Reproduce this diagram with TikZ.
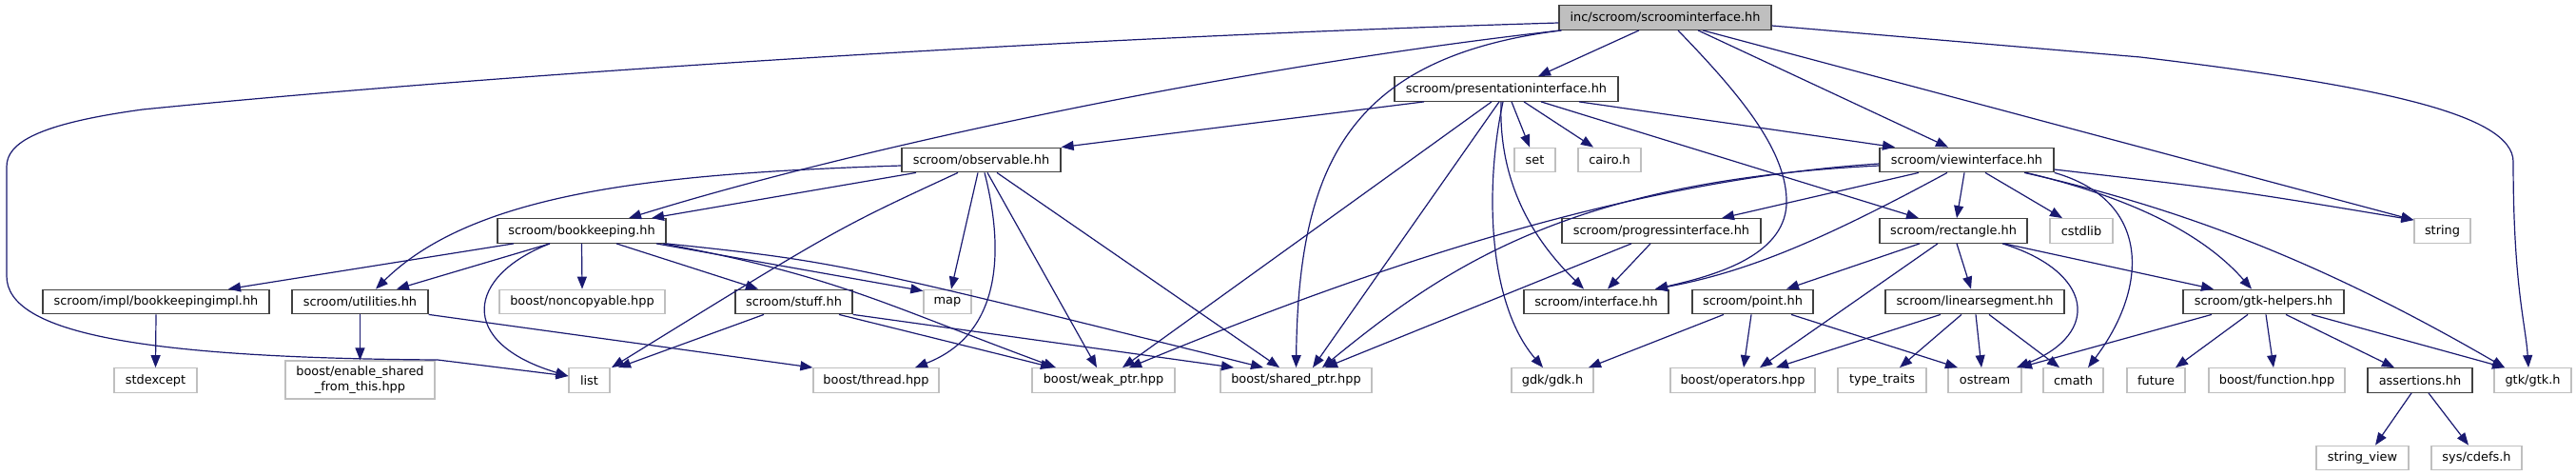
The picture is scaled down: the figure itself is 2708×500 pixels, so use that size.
\documentclass[tikz,border=0pt]{standalone}
\usepackage{fontspec}
\setmainfont{DejaVu Sans}
\usetikzlibrary{arrows.meta}
\definecolor{edgeblue}{HTML}{191970}
\definecolor{docborder}{HTML}{404040}
\definecolor{extborder}{HTML}{BFBFBF}
\definecolor{rootfill}{HTML}{BFBFBF}
\begin{document}
\begin{tikzpicture}[x=1pt,y=-1pt,
  box/.style={rectangle, inner sep=0pt, minimum height=25.5pt, font=\fontsize{12.9}{15}\selectfont, text=black, line width=1.3pt},
  doc/.style={box, draw=docborder},
  ext/.style={box, draw=extborder},
  rootbox/.style={box, draw=docborder, fill=rootfill},
  dep/.style={draw=edgeblue, line width=1.2pt, -{Triangle[length=13pt,width=10pt]}}]
\useasboundingbox (0,0) rectangle (2708,500);
% row 0
\node[rootbox, minimum width=223pt] (root) at (1750.5,18.5) {inc/scroom/scroominterface.hh};
% row 1
\node[doc, minimum width=235pt] (pres) at (1583.5,93.5) {scroom/presentationinterface.hh};
% row 2
\node[doc, minimum width=167pt] (obs) at (1031.5,168) {scroom/observable.hh};
\node[ext, minimum width=43pt] (set) at (1613.5,168) {set};
\node[ext, minimum width=66pt] (cairo) at (1692,168) {cairo.h};
\node[doc, minimum width=183pt] (view) at (2067.5,168) {scroom/viewinterface.hh};
% row 3
\node[doc, minimum width=177pt] (bk) at (611.5,242.5) {scroom/bookkeeping.hh};
\node[doc, minimum width=209pt] (prog) at (1746.5,242.5) {scroom/progressinterface.hh};
\node[doc, minimum width=155pt] (rect) at (2053.5,242.5) {scroom/rectangle.hh};
\node[ext, minimum width=66pt] (cstdlib) at (2188,242.5) {cstdlib};
\node[ext, minimum width=59pt] (string) at (2567.5,242.5) {string};
% row 4
\node[doc, minimum width=238pt] (bkimpl) at (164,317) {scroom/impl/bookkeepingimpl.hh};
\node[doc, minimum width=143pt] (util) at (378.5,317) {scroom/utilities.hh};
\node[ext, minimum width=174pt] (noncopy) at (612,317) {boost/noncopyable.hpp};
\node[doc, minimum width=123pt] (stuff) at (834.5,317) {scroom/stuff.hh};
\node[ext, minimum width=50pt] (map) at (996,317) {map};
\node[doc, minimum width=152pt] (iface) at (1678,317) {scroom/interface.hh};
\node[doc, minimum width=127pt] (point) at (1842.5,317) {scroom/point.hh};
\node[doc, minimum width=188pt] (linseg) at (2076,317) {scroom/linearsegment.hh};
\node[doc, minimum width=169pt] (gtkh) at (2379.5,317) {scroom/gtk-helpers.hh};
% row 5
\node[ext, minimum width=87pt] (stdexcept) at (163.5,399.5) {stdexcept};
\node[ext, minimum width=157pt, minimum height=40pt, align=center, font=\fontsize{12.9}{15.5}\selectfont] (enable) at (378.5,399) {boost/enable\_shared\\\_from\_this.hpp};
\node[ext, minimum width=43pt] (list) at (619.5,399.5) {list};
\node[ext, minimum width=132pt] (thread) at (921,399.5) {boost/thread.hpp};
\node[ext, minimum width=150pt] (weak) at (1160,399.5) {boost/weak\_ptr.hpp};
\node[ext, minimum width=159pt] (shared) at (1362.5,399.5) {boost/shared\_ptr.hpp};
\node[ext, minimum width=86pt] (gdk) at (1632,399.5) {gdk/gdk.h};
\node[ext, minimum width=152pt] (operators) at (1832,399.5) {boost/operators.hpp};
\node[ext, minimum width=93pt] (tt) at (1978.5,399.5) {type\_traits};
\node[ext, minimum width=77pt] (ostream) at (2086.5,399.5) {ostream};
\node[ext, minimum width=63pt] (cmath) at (2179.5,399.5) {cmath};
\node[ext, minimum width=61pt] (future) at (2266.5,399.5) {future};
\node[ext, minimum width=143pt] (function) at (2393.5,399.5) {boost/function.hpp};
\node[doc, minimum width=110pt] (assert) at (2544,399.5) {assertions.hh};
\node[ext, minimum width=81pt] (gtk) at (2662.5,399.5) {gtk/gtk.h};
% row 6
\node[ext, minimum width=97pt] (strview) at (2483.5,481) {string\_view};
\node[ext, minimum width=95pt] (cdefs) at (2603.5,481) {sys/cdefs.h};

% root edges
\draw[dep] ([yshift=-5.5pt]root.west) .. controls (1100,40) and (500,80) .. (150,115) .. controls (40,130) and (7,150) .. (7,175) -- (7,290) .. controls (7,350) and (150,376) .. (460,378) -- ([yshift=4.5pt]list.west);
\draw[dep] ([xshift=3pt]root.south west) .. controls (1300,70) and (900,155) .. ([xshift=49.5pt]bk.north);
\draw[dep] ([xshift=3pt]root.south west) .. controls (1420,60) and (1365,170) .. (shared.north);
\draw[dep] ([xshift=-27.5pt]root.south) -- ([xshift=33.5pt]pres.north);
\draw[dep] ([xshift=13.5pt]root.south) .. controls (1830,100) and (1880,160) .. (1878,215) .. controls (1875,270) and (1800,290) .. ([xshift=62pt]iface.north);
\draw[dep] ([xshift=34.5pt]root.south) -- ([xshift=-19.5pt]view.north);
\draw[dep] ([xshift=39.5pt]root.south) -- ([yshift=-2pt]string.north west);
\draw[dep] ([yshift=-8.5pt]root.east) -- (2250,60) .. controls (2500,90) and (2642,120) .. (2642,170) .. controls (2642,300) and (2655,340) .. ([xshift=-4.5pt]gtk.north);
% presentationinterface edges
\draw[dep] ([xshift=-86.5pt]pres.south) -- (obs.north east);
\draw[dep] ([xshift=-15.5pt]pres.south) -- ([xshift=20pt]weak.north);
\draw[dep] ([xshift=-7.5pt]pres.south) -- ([xshift=17.5pt]shared.north);
\draw[dep] ([xshift=-3.5pt]pres.south) .. controls (1560,200) and (1565,320) .. ([xshift=-10pt]gdk.north);
\draw[dep] ([xshift=-5.5pt]pres.south) .. controls (1575,190) and (1610,250) .. ([xshift=-13pt]iface.north);
\draw[dep] ([xshift=5.5pt]pres.south) -- ([xshift=-5.5pt]set.north);
\draw[dep] ([xshift=18.5pt]pres.south) -- ([xshift=-17pt]cairo.north);
\draw[dep] ([xshift=36.5pt]pres.south) -- ([xshift=-36.5pt]rect.north);
\draw[dep] ([xshift=76.5pt]pres.south) -- ([xshift=-75.5pt]view.north);
% observable edges
\draw[dep] ([xshift=-68.5pt]obs.south) -- ([xshift=73.5pt]bk.north);
\draw[dep] ([yshift=-6pt]obs.west) .. controls (700,182) and (500,200) .. ([xshift=16.5pt]util.north);
\draw[dep] ([xshift=-24.5pt]obs.south) .. controls (880,240) .. ([xshift=23.5pt]list.north);
\draw[dep] ([xshift=-3.5pt]obs.south) -- ([xshift=4pt]map.north);
\draw[dep] ([xshift=3.5pt]obs.south) .. controls (1055,260) and (1055,350) .. ([xshift=41pt]thread.north);
\draw[dep] ([xshift=6.5pt]obs.south) -- ([xshift=-7pt]weak.north);
\draw[dep] ([xshift=16.5pt]obs.south) -- ([xshift=-17.5pt]shared.north);
% bookkeeping edges
\draw[dep] ([xshift=-71.5pt]bk.south) -- ([xshift=76pt]bkimpl.north);
\draw[dep] ([xshift=-33.5pt]bk.south) -- ([xshift=38.5pt]util.north);
\draw[dep] ([xshift=-33.5pt]bk.south) .. controls (490,290) and (480,360) .. ([yshift=4.5pt]list.west);
\draw[dep] (bk.south) -- (noncopy.north);
\draw[dep] ([xshift=36.5pt]bk.south) -- ([xshift=-37.5pt]stuff.north);
\draw[dep] ([xshift=78.5pt]bk.south) -- ([yshift=-2pt]map.north west);
\draw[dep] ([xshift=85.5pt]bk.south) .. controls (880,290) and (930,320) .. ([xshift=-50pt]weak.north);
\draw[dep] (bk.south east) .. controls (880,275) .. ([xshift=-34.5pt]shared.north);
% utilities, impl, stuff
\draw[dep] (util.south) -- (enable.north);
\draw[dep] (util.south east) -- (thread.north west);
\draw[dep] (bkimpl.south) -- (stdexcept.north);
\draw[dep] ([xshift=-31.5pt]stuff.south) -- ([xshift=30.5pt]list.north);
\draw[dep] ([xshift=47.5pt]stuff.south) -- ([xshift=-53pt]weak.north);
\draw[dep] (stuff.south east) -- ([xshift=-65.5pt]shared.north);
% viewinterface edges
\draw[dep] ([xshift=-50.5pt]view.south) -- ([xshift=63.5pt]prog.north);
\draw[dep] ([xshift=-20.5pt]view.south) .. controls (1920,250) and (1840,285) .. ([xshift=62pt]iface.north);
\draw[dep] ([yshift=-4pt]view.west) .. controls (1700,190) and (1420,290) .. ([xshift=27pt]weak.north);
\draw[dep] ([yshift=-6pt]view.west) .. controls (1650,190) and (1520,280) .. ([xshift=27.5pt]shared.north);
\draw[dep] ([xshift=-2.5pt]view.south) -- ([xshift=3.5pt]rect.north);
\draw[dep] ([xshift=19.5pt]view.south) -- ([xshift=-20pt]cstdlib.north);
\draw[dep] (view.south east) .. controls (2260,210) and (2260,300) .. ([xshift=15.5pt]cmath.north);
\draw[dep] ([yshift=-10pt]view.east) .. controls (2350,200) .. ([yshift=-2pt]string.north west);
\draw[dep] ([xshift=62.5pt]view.south) .. controls (2250,210) and (2320,250) .. ([xshift=-12.5pt]gtkh.north);
\draw[dep] ([xshift=60.5pt]view.south) .. controls (2300,220) and (2450,280) .. ([xshift=-29.5pt]gtk.north);
% progressinterface edges
\draw[dep] ([xshift=-11.5pt]prog.south) -- ([xshift=12pt]iface.north);
\draw[dep] ([xshift=-31.5pt]prog.south) -- ([xshift=30.5pt]shared.north);
% rectangle edges
\draw[dep] ([xshift=-35.5pt]rect.south) -- ([xshift=35.5pt]point.north);
\draw[dep] ([xshift=-16.5pt]rect.south) -- ([xshift=18pt]operators.north);
\draw[dep] ([xshift=3.5pt]rect.south) -- ([xshift=-4pt]linseg.north);
\draw[dep] ([xshift=51.5pt]rect.south) .. controls (2200,285) and (2210,350) .. ([xshift=33.5pt]ostream.north);
\draw[dep] ([xshift=53.5pt]rect.south) -- ([xshift=-52.5pt]gtkh.north);
% point edges
\draw[dep] ([xshift=-30.5pt]point.south) -- ([xshift=38pt]gdk.north);
\draw[dep] ([xshift=-1.5pt]point.south) -- ([xshift=1pt]operators.north);
\draw[dep] ([xshift=40.5pt]point.south) -- ([xshift=-28.5pt]ostream.north);
% linearsegment edges
\draw[dep] ([xshift=-36pt]linseg.south) -- ([xshift=35pt]operators.north);
\draw[dep] ([xshift=-14pt]linseg.south) -- ([xshift=18.5pt]tt.north);
\draw[dep] ([xshift=1pt]linseg.south) -- ([xshift=-3.5pt]ostream.north);
\draw[dep] ([xshift=15pt]linseg.south) -- ([xshift=-14.5pt]cmath.north);
% gtk-helpers edges
\draw[dep] ([xshift=-54.5pt]gtkh.south) -- ([xshift=36.5pt]ostream.north);
\draw[dep] ([xshift=-16.5pt]gtkh.south) -- ([xshift=20.5pt]future.north);
\draw[dep] ([xshift=2.5pt]gtkh.south) -- ([xshift=-3.5pt]function.north);
\draw[dep] ([xshift=23.5pt]gtkh.south) -- ([xshift=-27pt]assert.north);
\draw[dep] ([xshift=50.5pt]gtkh.south) -- ([xshift=-29.5pt]gtk.north);
% assertions edges
\draw[dep] ([xshift=-9pt]assert.south) -- ([xshift=13.5pt]strview.north);
\draw[dep] ([xshift=9pt]assert.south) -- ([xshift=-8.5pt]cdefs.north);
\end{tikzpicture}
\end{document}
